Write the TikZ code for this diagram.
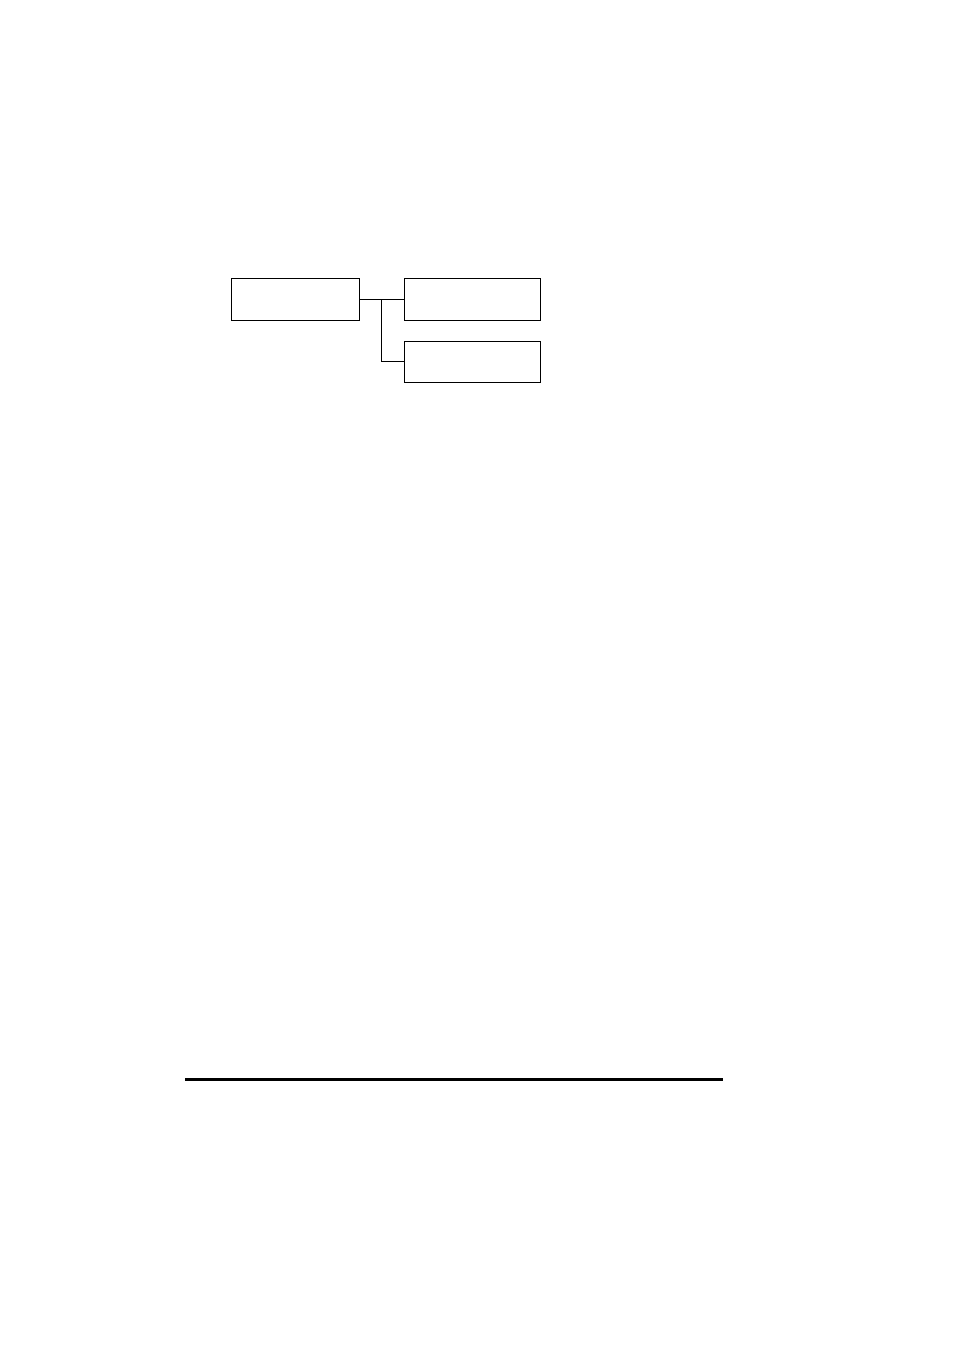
\documentclass[tikz,border=0pt]{standalone}
\usetikzlibrary{calc}
\tikzset{menubox/.style={draw, line width=0.9pt, inner sep=0pt, outer sep=0pt, minimum height=42pt}}

\begin{document}
\begin{tikzpicture}[x=1pt, y=-1pt]
		%%%%% START %%%%%
		\useasboundingbox (0, 0) rectangle (954, 1350);
		
		\node[menubox, minimum width=128pt] (main) at (295, 299) {};
		\node[menubox, minimum width=136pt] (upper) at (472, 299) {};
		\node[menubox, minimum width=136pt, minimum height=41pt] (lower) at (472, 361.5) {};
		
		\coordinate (split) at (381, 299);
		\draw[line width=0.9pt] (main.east) -- (upper.west);
		\draw[line width=0.9pt] (split) |- (lower.west);
		
		\draw[fill=black] (185, 1078.3) rectangle (722, 1079.7);
		%%%%% END %%%%%
	\end{tikzpicture}
\end{document}
